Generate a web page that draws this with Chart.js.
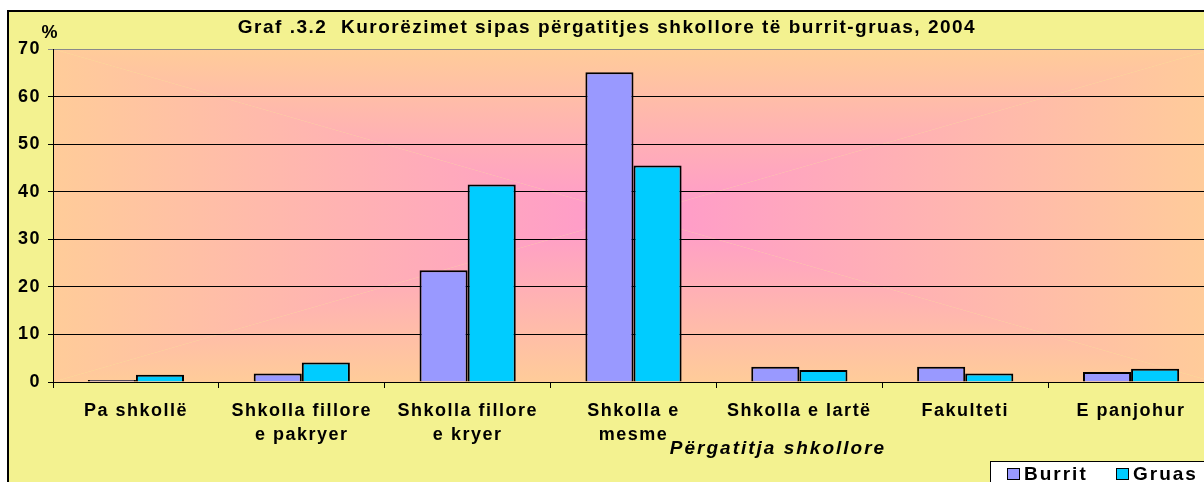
<!DOCTYPE html>
<html>
<head>
<meta charset="utf-8">
<script src="https://cdn.jsdelivr.net/npm/chart.js@4"></script>
<style>
  html, body { margin: 0; padding: 0; width: 1204px; height: 482px; overflow: hidden; background: #fff; }
  #frame { position: absolute; left: 7px; top: 10px; width: 1240px; height: 500px;
           border-left: 2px solid #000; border-top: 2px solid #000; background: #f3f290; }
  #wrap { position: absolute; left: 0; top: 0; width: 1220px; height: 490px; }
</style>
</head>
<body>
<div id="frame"></div>
<div id="wrap"><canvas id="chart"></canvas></div>
<script>
const categories = [
  ['Pa shkollë'],
  ['Shkolla fillore', 'e pakryer'],
  ['Shkolla fillore', 'e kryer'],
  ['Shkolla e', 'mesme'],
  ['Shkolla e lartë'],
  ['Fakulteti'],
  ['E panjohur']
];
const burrit = [0.4, 1.8, 23.5, 65.1, 3.2, 3.2, 2.1];
const gruas = [1.5, 4.1, 41.5, 45.5, 2.5, 1.8, 2.8];
const seriesNames = ['Burrit', 'Gruas'];
const seriesColors = ['#9999ff', '#00ccff'];
const yTicks = [0, 10, 20, 30, 40, 50, 60, 70];

const FONT = '"Liberation Sans", Arial, sans-serif';

// plot background: rectangular "from center" gradient, peach edges -> pink centre
const plotBackground = {
  id: 'plotBackground',
  beforeDraw(chart) {
    const { ctx, chartArea: a } = chart;
    const cx = (a.left + a.right) / 2, cy = (a.top + a.bottom) / 2;
    const edge = '#ffcc99', mid = '#ff99cc';
    const tri = (pts, x0, y0, x1, y1) => {
      const g = ctx.createLinearGradient(x0, y0, x1, y1);
      g.addColorStop(0, edge);
      g.addColorStop(1, mid);
      ctx.beginPath();
      ctx.moveTo(pts[0][0], pts[0][1]);
      ctx.lineTo(pts[1][0], pts[1][1]);
      ctx.lineTo(cx, cy);
      ctx.closePath();
      ctx.fillStyle = g;
      ctx.fill();
    };
    ctx.save();
    tri([[a.left, a.top], [a.right, a.top]], 0, a.top, 0, cy);
    tri([[a.left, a.bottom], [a.right, a.bottom]], 0, a.bottom, 0, cy);
    tri([[a.left, a.top], [a.left, a.bottom]], a.left, 0, cx, 0);
    tri([[a.right, a.top], [a.right, a.bottom]], a.right, 0, cx, 0);
    ctx.restore();
    // the original Excel text is set loosely
    ctx.letterSpacing = '1.5px';
  }
};

// extra texts and the boxed legend
const extras = {
  id: 'extras',
  afterDraw(chart) {
    const ctx = chart.ctx;
    ctx.save();
    ctx.fillStyle = '#000';
    ctx.textBaseline = 'middle';
    ctx.textAlign = 'center';
    ctx.letterSpacing = '1px';
    ctx.font = 'bold 18px ' + FONT;
    ctx.fillText('%', 50, 33);
    ctx.letterSpacing = '2px';
    ctx.font = 'italic bold 19px ' + FONT;
    ctx.fillText('Përgatitja shkollore', 778, 449);

    // legend
    ctx.fillStyle = '#fff';
    ctx.fillRect(990.5, 461.5, 240, 30);
    ctx.strokeStyle = '#000';
    ctx.lineWidth = 1;
    ctx.strokeRect(990.5, 461.5, 240, 30);
    ctx.font = 'bold 19px ' + FONT;
    ctx.textAlign = 'left';
    const xs = [1007, 1116];
    seriesNames.forEach((name, i) => {
      ctx.fillStyle = seriesColors[i];
      ctx.fillRect(xs[i] + 0.5, 468.5, 12, 11);
      ctx.strokeRect(xs[i] + 0.5, 468.5, 12, 11);
      ctx.fillStyle = '#000';
      ctx.fillText(name, xs[i] + 17, 475);
    });
    ctx.restore();
  }
};

new Chart(document.getElementById('chart'), {
  type: 'bar',
  data: {
    labels: categories,
    datasets: seriesNames.map((name, i) => ({
      label: name,
      data: i === 0 ? burrit : gruas,
      backgroundColor: seriesColors[i],
      borderColor: '#000',
      borderWidth: 2,
      categoryPercentage: 0.58,
      barPercentage: 1
    }))
  },
  options: {
    responsive: true,
    maintainAspectRatio: false,
    animation: false,
    layout: { padding: { left: 0, right: 6, top: 0, bottom: 0 } },
    plugins: {
      legend: { display: false },
      tooltip: { enabled: false },
      title: {
        display: true,
        text: 'Graf .3.2  Kurorëzimet sipas përgatitjes shkollore të burrit-gruas, 2004',
        color: '#000',
        font: { family: FONT, size: 19, weight: 'bold', lineHeight: 1.2 },
        padding: { top: 16, bottom: 10.2 }
      }
    },
    scales: {
      x: {
        grid: {
          offset: true,
          drawOnChartArea: false,
          drawTicks: true,
          tickLength: 6,
          color: '#000'
        },
        border: { display: true, color: '#000', width: 1 },
        ticks: {
          color: '#000',
          maxRotation: 0,
          autoSkip: false,
          padding: 12,
          font: { family: FONT, size: 18, weight: 'bold', lineHeight: 1.28 }
        },
        afterFit(scale) { scale.height = 490 - 382; }
      },
      y: {
        min: 0,
        max: 70,
        afterBuildTicks(scale) { scale.ticks = yTicks.map(v => ({ value: v })); },
        grid: {
          color: ctx => (ctx.tick && ctx.tick.value === 70 ? '#8a8a8a' : '#000'),
          tickLength: 5,
          lineWidth: 1
        },
        border: { display: true, color: '#000', width: 1 },
        ticks: {
          color: '#000',
          padding: 7,
          font: { family: FONT, size: 18, weight: 'bold' }
        },
        afterFit(scale) { scale.width = 53; }
      }
    }
  },
  plugins: [plotBackground, extras]
});
</script>
</body>
</html>
